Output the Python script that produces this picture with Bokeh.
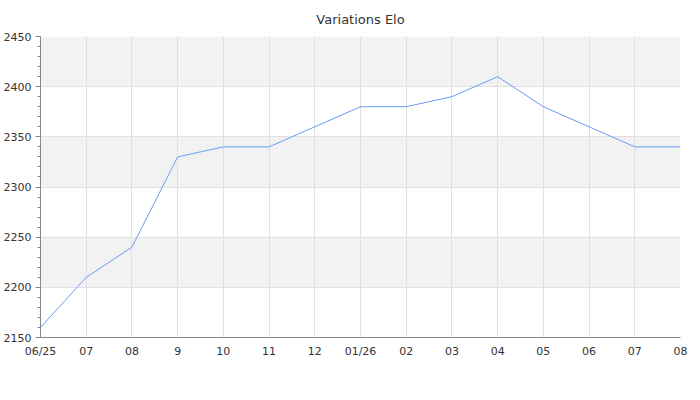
from bokeh.plotting import figure
from bokeh.embed import file_html
from bokeh.resources import INLINE
from bokeh.models import FixedTicker, Range1d

labels = ["06/25", "07", "08", "9", "10", "11", "12", "01/26", "02", "03", "04", "05", "06", "07", "08"]
elo = [2160, 2210, 2240, 2330, 2340, 2340, 2360, 2380, 2380, 2390, 2410, 2380, 2360, 2340, 2340]
y_ticks = [2150, 2200, 2250, 2300, 2350, 2400, 2450]
y_minor = [v for v in range(2150, 2451, 10)]
title_text = "Variations Elo"

xs = list(range(len(labels)))

p = figure(output_backend="svg", toolbar_location=None,
           x_range=Range1d(0, len(labels) - 1), y_range=Range1d(2150, 2450),
           min_border_left=32, min_border_right=12, min_border_top=36, min_border_bottom=20)
p.frame_width = 640
p.frame_height = 301

p.title.text = title_text
p.title.align = "center"
p.title.text_font = "DejaVu Sans"
p.title.text_font_size = "13px"
p.title.text_font_style = "normal"
p.title.text_color = "#333333"
p.title.standoff = 19

p.line(xs, elo, line_color="#6a9bf4", line_width=1)

p.outline_line_color = None
p.background_fill_color = "white"

p.xaxis.ticker = FixedTicker(ticks=xs)
p.xaxis.major_label_overrides = {i: l for i, l in enumerate(labels)}
p.yaxis.ticker = FixedTicker(ticks=y_ticks, minor_ticks=y_minor)

for ax in (p.xaxis, p.yaxis):
    ax.major_label_text_font = "DejaVu Sans"
    ax.major_label_text_font_size = "11px"
    ax.major_label_text_color = "#333333"
    ax.axis_line_color = "#888888"
    ax.major_tick_line_color = "#888888"
    ax.minor_tick_line_color = "#888888"

p.xaxis.major_tick_out = 0
p.xaxis.major_tick_in = 0
p.xaxis.minor_tick_out = 0
p.xaxis.major_label_standoff = 7
p.yaxis.major_tick_out = 5
p.yaxis.major_tick_in = 0
p.yaxis.minor_tick_out = 3
p.yaxis.minor_tick_in = 0
p.yaxis.major_label_standoff = 4

p.ygrid.level = "image"
p.xgrid.level = "underlay"
p.xgrid.grid_line_color = "#e0e0e0"
p.ygrid.grid_line_color = "#e0e0e0"
p.ygrid.band_fill_color = "#f2f2f2"
p.ygrid.band_fill_alpha = 1.0

open("out.html", "w").write(file_html(p, INLINE))
